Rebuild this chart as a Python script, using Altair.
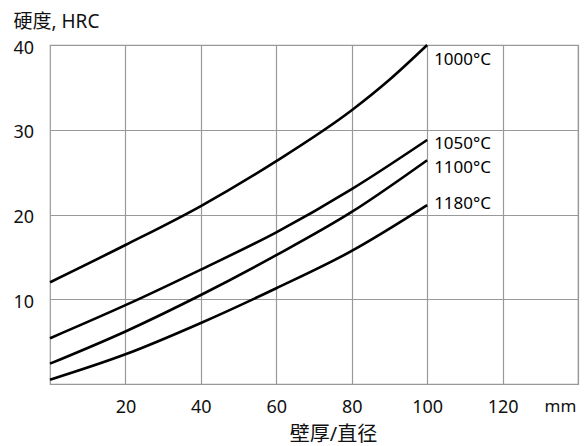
import altair as alt
import pandas as pd

# Data
thickness = [0, 20, 40, 60, 80, 90, 100]
hrc_1000 = [12.0, 16.4, 21.0, 26.3, 32.3, 35.9, 40.0]
thickness_b = [0, 20, 40, 60, 80, 100]
hrc_1050 = [5.4, 9.3, 13.5, 17.9, 23.0, 28.8]
hrc_1100 = [2.4, 6.2, 10.5, 15.2, 20.3, 26.4]
hrc_1180 = [0.5, 3.5, 7.2, 11.3, 15.7, 21.1]

series_names = ["1000°C", "1050°C", "1100°C", "1180°C"]
label_x = [100, 100, 100, 100]
label_y = [38.2, 28.3, 25.5, 21.2]

x_ticks = [20, 40, 60, 80, 100, 120, 140]
y_ticks = [10, 20, 30, 40]

rows = []
for xv, yv in zip(thickness, hrc_1000):
    rows.append({"x": xv, "y": yv, "s": series_names[0]})
for name, vals in zip(series_names[1:], [hrc_1050, hrc_1100, hrc_1180]):
    for xv, yv in zip(thickness_b, vals):
        rows.append({"x": xv, "y": yv, "s": name})
df = pd.DataFrame(rows)
labels = pd.DataFrame({"x": label_x, "y": label_y, "s": series_names})

FONT = "Noto Sans, Noto Sans CJK SC"

x_enc = alt.X(
    "x:Q",
    scale=alt.Scale(domain=[0, 140], nice=False),
    axis=alt.Axis(
        values=x_ticks,
        grid=True,
        ticks=False,
        tickSize=0,
        domain=False,
        labelExpr="datum.value == 140 ? 'mm' : datum.label",
        labelOffset=alt.condition("datum.value == 140", alt.value(-18), alt.value(0)),
        labelFontSize=alt.condition("datum.value == 140", alt.value(17), alt.value(18)),
        labelPadding=14,
        labelOverlap=False,
        labelFlush=False,
        labelBound=False,
        title="壁厚/直径",
        titleX=283,
        titleY=50,
        titleAlign="center",
        titleBaseline="middle",
        titleFontSize=20,
        titleFontWeight="normal",
    ),
)
y_enc = alt.Y(
    "y:Q",
    scale=alt.Scale(domain=[0, 40], nice=False),
    axis=alt.Axis(
        values=y_ticks,
        grid=True,
        ticks=False,
        tickSize=0,
        domain=False,
        labelAlign="left",
        labelPadding=37,
        labelOffset=3,
        labelFontSize=18,
        labelFlush=False,
        labelBound=False,
        title="硬度, HRC",
        titleAngle=0,
        titleX=-37,
        titleY=-24,
        titleAlign="left",
        titleBaseline="middle",
        titleFontSize=19,
        titleFontWeight="normal",
    ),
)

lines = alt.Chart(df).mark_line(
    color="black", strokeWidth=2.6, interpolate="monotone"
).encode(x=x_enc, y=y_enc, detail="s:N")

texts = alt.Chart(labels).mark_text(
    align="left", baseline="middle", dx=7, fontSize=17, color="black", font=FONT
).encode(x="x:Q", y="y:Q", text="s:N")

chart = (
    alt.layer(lines, texts)
    .properties(
        width=528,
        height=339,
        autosize=alt.AutoSizeParams(type="none"),
        padding={"left": 42, "top": 37, "right": 2, "bottom": 62},
        background="white",
    )
    .configure_view(stroke="#999999", strokeWidth=1.2)
    .configure_axis(
        gridColor="#999999",
        gridWidth=1.2,
        gridOpacity=1,
        labelColor="#111111",
        titleColor="#111111",
        labelFont=FONT,
        titleFont=FONT,
    )
)

chart.save("out.html", embed_options={"renderer": "svg", "actions": False})
